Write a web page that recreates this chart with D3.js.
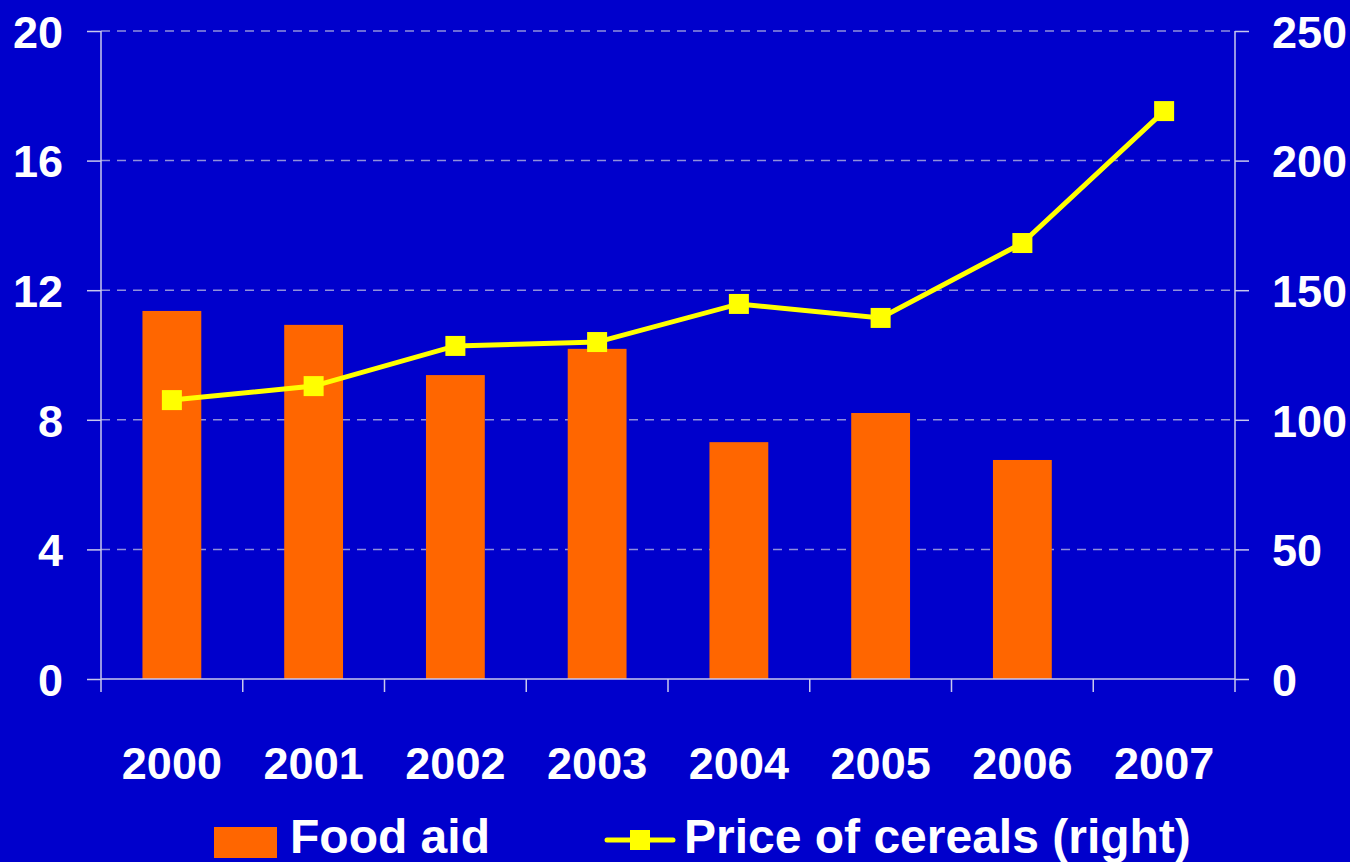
<!DOCTYPE html>
<html>
<head>
<meta charset="utf-8">
<script src="https://cdn.jsdelivr.net/npm/d3@7"></script>
<style>
  html, body { margin: 0; padding: 0; background: #0000cc; }
  svg { display: block; }
  text { font-family: "Liberation Sans", Arial, sans-serif; font-weight: bold; fill: #fff; }
</style>
</head>
<body>
<svg id="chart"></svg>
<script>
const years = ["2000", "2001", "2002", "2003", "2004", "2005", "2006", "2007"];
const foodAid = [11.36, 10.93, 9.38, 10.19, 7.31, 8.21, 6.76, null];
const cerealPrice = [107.6, 113, 128.5, 130, 144.7, 139.3, 168.2, 219.1];
const leftTicks = [0, 4, 8, 12, 16, 20];
const rightTicks = [0, 50, 100, 150, 200, 250];

const width = 1350, height = 862;
const plot = {left: 101, right: 1235, top: 31, bottom: 679};
const axisColor = "#c8c8ee";

const svg = d3.select("#chart")
    .attr("width", width)
    .attr("height", height);

svg.append("rect").attr("width", width).attr("height", height).attr("fill", "#0000cc");

const x = d3.scaleBand().domain(years).range([plot.left, plot.right]);
const yL = d3.scaleLinear().domain([0, 20]).range([plot.bottom, plot.top]);
const yR = d3.scaleLinear().domain([0, 250]).range([plot.bottom, plot.top]);

// dashed gridlines
svg.append("g")
    .selectAll("line")
    .data(leftTicks.filter(d => d > 0))
    .join("line")
    .attr("x1", plot.left).attr("x2", plot.right)
    .attr("y1", d => yL(d)).attr("y2", d => yL(d))
    .attr("stroke", "#9090dc")
    .attr("stroke-width", 1.5)
    .attr("stroke-dasharray", "9,7");

// bars
const barW = x.bandwidth() * 0.415;
svg.append("g")
    .selectAll("rect")
    .data(years.map((y, i) => ({year: y, v: foodAid[i]})).filter(d => d.v != null))
    .join("rect")
    .attr("x", d => x(d.year) + x.bandwidth() / 2 - barW / 2)
    .attr("y", d => yL(d.v))
    .attr("width", barW)
    .attr("height", d => yL(0) - yL(d.v))
    .attr("fill", "#ff6600");

// axes
const leftAxis = svg.append("g").attr("transform", `translate(${plot.left},0)`)
    .call(d3.axisLeft(yL).tickValues(leftTicks).tickSize(14).tickFormat(d3.format("d")).tickPadding(24));
const rightAxis = svg.append("g").attr("transform", `translate(${plot.right},0)`)
    .call(d3.axisRight(yR).tickValues(rightTicks).tickSize(14).tickFormat(d3.format("d")).tickPadding(23));
const bottomAxis = svg.append("g").attr("transform", `translate(0,${plot.bottom})`)
    .call(d3.axisBottom(x).tickSize(0).tickPadding(68));

[leftAxis, rightAxis, bottomAxis].forEach(a => {
  a.select(".domain").remove();
  a.selectAll("line").attr("stroke", axisColor).attr("stroke-width", 1.5);
  a.selectAll("text").attr("fill", "#fff").attr("font-size", 45)
      .attr("font-family", "'Liberation Sans', Arial, sans-serif").attr("font-weight", "bold");
});
leftAxis.selectAll("text").attr("dy", "0.36em");
rightAxis.selectAll("text").attr("dy", "0.36em");
bottomAxis.selectAll("text").attr("dy", "0.71em");

// axis lines and category ticks
const frame = svg.append("g").attr("stroke", axisColor).attr("stroke-width", 1.5);
frame.append("line").attr("x1", plot.left).attr("x2", plot.left).attr("y1", plot.top).attr("y2", plot.bottom + 13);
frame.append("line").attr("x1", plot.right).attr("x2", plot.right).attr("y1", plot.top).attr("y2", plot.bottom + 13);
frame.append("line").attr("x1", plot.left).attr("x2", plot.right).attr("y1", yL(0)).attr("y2", yL(0));
frame.selectAll("line.xt")
    .data(years.slice(1))
    .join("line").attr("class", "xt")
    .attr("x1", d => x(d)).attr("x2", d => x(d))
    .attr("y1", plot.bottom).attr("y2", plot.bottom + 13);

// price line
const line = d3.line()
    .x((d, i) => x(years[i]) + x.bandwidth() / 2)
    .y(d => yR(d));
svg.append("path")
    .datum(cerealPrice)
    .attr("d", line)
    .attr("fill", "none")
    .attr("stroke", "#ffff00")
    .attr("stroke-width", 5);
svg.append("g")
    .selectAll("rect")
    .data(cerealPrice)
    .join("rect")
    .attr("x", (d, i) => x(years[i]) + x.bandwidth() / 2 - 10)
    .attr("y", d => yR(d) - 10)
    .attr("width", 20).attr("height", 20)
    .attr("fill", "#ffff00");

// legend
const legend = svg.append("g");
legend.append("rect").attr("x", 214).attr("y", 827).attr("width", 63).attr("height", 31).attr("fill", "#ff6600");
legend.append("text").attr("x", 290).attr("y", 853).attr("font-size", 48).text("Food aid");
legend.append("line").attr("x1", 607).attr("x2", 673).attr("y1", 840).attr("y2", 840)
    .attr("stroke", "#ffff00").attr("stroke-width", 5).attr("stroke-linecap", "round");
legend.append("rect").attr("x", 630).attr("y", 830).attr("width", 20).attr("height", 20).attr("fill", "#ffff00");
legend.append("text").attr("x", 684).attr("y", 853).attr("font-size", 48).text("Price of cereals (right)");
</script>
</body>
</html>
